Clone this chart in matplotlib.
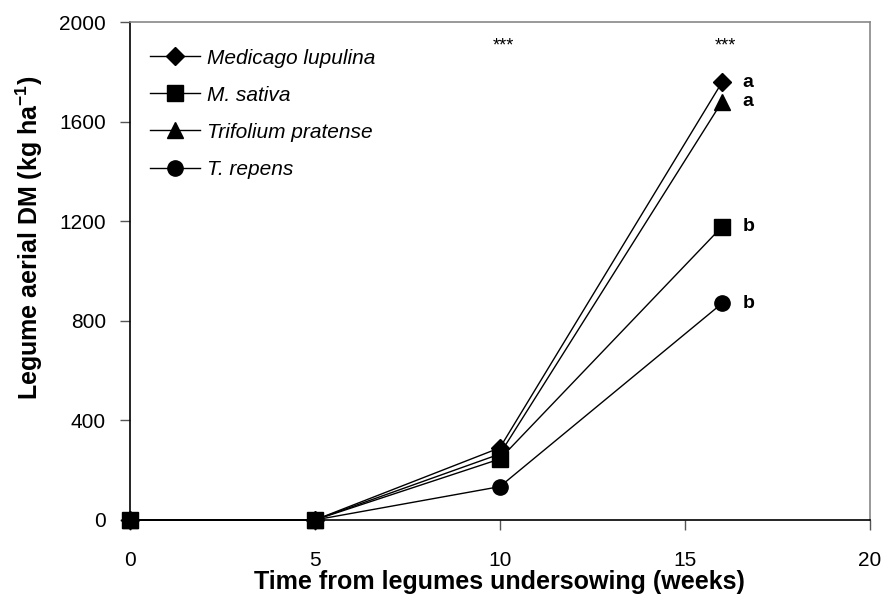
import matplotlib
matplotlib.use("Agg")
import matplotlib.pyplot as plt

plt.rcParams["font.family"] = ["Liberation Sans", "DejaVu Sans"]
plt.rcParams["mathtext.fontset"] = "custom"
plt.rcParams["mathtext.rm"] = "Liberation Sans"
plt.rcParams["mathtext.bf"] = "Liberation Sans:bold"

weeks = [0, 5, 10, 16]
lupulina = [0, 0, 290, 1758]
sativa = [0, 0, 245, 1178]
pratense = [0, 0, 265, 1680]
repens = [0, 0, 134, 870]

series_names = ["Medicago lupulina", "M. sativa", "Trifolium pratense", "T. repens"]
series_markers = ["D", "s", "^", "o"]
letters = ["a", "b", "a", "b"]
signif_weeks = [10, 16]
signif_text = "***"

fig = plt.figure(figsize=(8.86, 5.97), dpi=100)
ax = fig.add_axes([0.1464, 0.129, 0.8356, 0.834])

sizes = {"D": 9.5, "s": 11, "^": 11, "o": 11}
series = [lupulina, sativa, pratense, repens]
handles = []
for name, mk, vals in zip(series_names, series_markers, series):
    h, = ax.plot(weeks, vals, marker=mk, color="black", lw=1.0, ms=sizes[mk],
                 markerfacecolor="black", markeredgecolor="black", clip_on=False,
                 label=name, zorder=3)
    handles.append(h)

# significance letters at last harvest
for vals, let in zip(series, letters):
    ax.text(weeks[-1] + 0.55, vals[-1], let, fontsize=14, fontweight="bold",
            ha="left", va="center")

for w in signif_weeks:
    ax.text(w + 0.1, 1905, signif_text, fontsize=13, ha="center", va="center")

ax.set_xlim(0, 20)
ax.set_ylim(0, 2000)
ax.set_xticks([0, 5, 10, 15, 20])
ax.set_yticks([0, 400, 800, 1200, 1600, 2000])
ax.tick_params(axis="both", direction="out", length=7, width=1, color="#555555",
               labelsize=15)
ax.tick_params(axis="y", pad=10)
ax.tick_params(axis="x", pad=15)

for side in ["top", "right"]:
    ax.spines[side].set_color("#888888")
    ax.spines[side].set_linewidth(1.2)
for side in ["left", "bottom"]:
    ax.spines[side].set_color("black")
    ax.spines[side].set_linewidth(1.2)

ax.set_xlabel("Time from legumes undersowing (weeks)", fontsize=18,
              fontweight="bold", labelpad=0)
ax.set_ylabel("Legume aerial DM (kg ha$^{\\mathbf{-1}}$)", fontsize=18,
              fontweight="bold", va="center")
ax.yaxis.set_label_coords(-0.135, 0.566)

leg = ax.legend(handles=handles, loc="upper left", bbox_to_anchor=(0.01, 0.972),
                frameon=False, prop={"style": "italic", "size": 15},
                handlelength=2.4, handletextpad=0.35, labelspacing=0.87,
                borderaxespad=0.2)

fig.savefig("out.png", dpi=100)
